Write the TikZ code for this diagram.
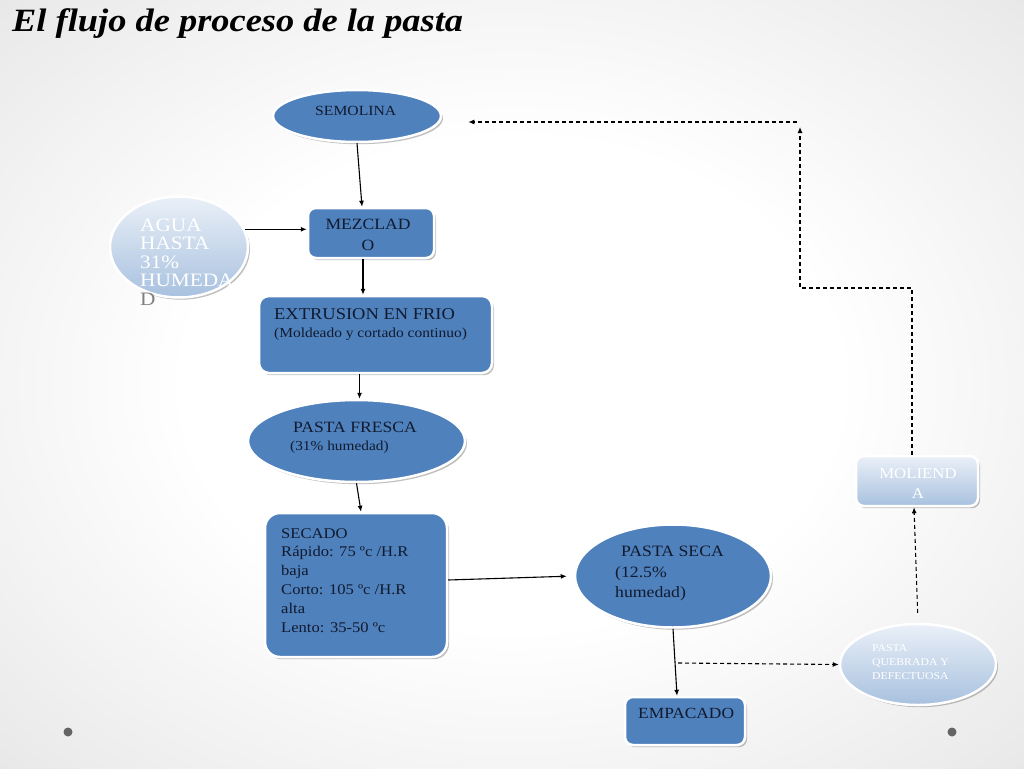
\documentclass[tikz,border=0pt]{standalone}
\usepackage{fontspec}
\setmainfont{Liberation Serif}[FakeStretch=1.12]
\usetikzlibrary{shapes.geometric,shadows,arrows.meta}
\definecolor{mainblue}{HTML}{4F81BD}
\definecolor{lightA}{HTML}{EAF0F8}
\definecolor{lightB}{HTML}{A8C1DF}
\definecolor{txt}{HTML}{111A2E}
\definecolor{bgmid}{RGB}{234,234,234}
\definecolor{bgout}{RGB}{210,210,210}
\definecolor{dotc}{RGB}{100,100,100}
\pgfdeclareradialshading{bgshade}{\pgfpoint{0bp}{0bp}}{color(0bp)=(white); color(16bp)=(white); color(34bp)=(bgmid); color(50bp)=(bgout)}
\begin{document}
\begin{tikzpicture}[x=1pt,y=-1pt,
  shp/.style={draw=white, line width=2.5pt, drop shadow={opacity=0.5, shadow xshift=2pt, shadow yshift=-2.2pt}},
  bluefill/.style={shp, fill=mainblue},
  lightfill/.style={shp, top color=lightA, bottom color=lightB},
  ell/.style={ellipse, inner sep=0pt},
  box/.style={rectangle, rounded corners=8pt, inner sep=0pt},
  lbl/.style={text=txt, inner sep=0pt, anchor=base west, align=left},
  arr/.style={-{Latex[length=6pt,width=5pt]}, line width=1.1pt, black},
  darr/.style={arr, dash pattern=on 4pt off 3pt},
]
\useasboundingbox (0,0) rectangle (1024,768);
\shade[shading=bgshade] (0,0) rectangle (1024,768);

% title
\node[anchor=base west, inner sep=0pt, font=\fontsize{32.5}{36}\selectfont\itshape\bfseries] (title) at (12,32) {El flujo de proceso de la pasta};

% shapes
\node[bluefill, ell, minimum width=168, minimum height=52] (semolina) at (357,116) {};
\node[bluefill, box, minimum width=126, minimum height=50] (mezclado) at (371,233) {};
\node[lightfill, ell, minimum width=138, minimum height=101] (agua) at (179,247) {};
\node[bluefill, box, rounded corners=10pt, minimum width=233, minimum height=77] (extr) at (375.5,334.5) {};
\node[bluefill, ell, minimum width=217, minimum height=82] (fresca) at (356.5,441) {};
\node[bluefill, box, rounded corners=15pt, minimum width=182, minimum height=144] (secado) at (356,585) {};
\node[bluefill, ell, minimum width=196, minimum height=103] (seca) at (673,576) {};
\node[bluefill, box, minimum width=120, minimum height=48] (empacado) at (685,721) {};
\node[lightfill, ell, minimum width=156, minimum height=81] (quebrada) at (918,664.5) {};
\node[lightfill, box, minimum width=122, minimum height=50] (molienda) at (917,481) {};

% texts
\node[lbl, font=\fontsize{14}{16}\selectfont] (semolinaT) at (315,115.5) {SEMOLINA};
\node[lbl, anchor=center, align=center, font=\fontsize{15.7}{21}\selectfont] (mezcladoT) at (368,234.5) {MEZCLAD\\O};
\node[lbl, anchor=north west, text=white, font=\fontsize{19}{18.5}\selectfont] (aguaT) at (140,218.5) {AGUA\\HASTA\\31\%\\HUMEDA\\\textcolor{gray}{D}};
\node[lbl, font=\fontsize{16.5}{19}\selectfont] (extrT1) at (274,319.5) {EXTRUSION EN FRIO};
\node[lbl, font=\fontsize{13.8}{15}\selectfont] (extrT2) at (274,337) {(Moldeado y cortado continuo)};
\node[lbl, font=\fontsize{15.7}{19}\selectfont] (frescaT1) at (293,432) {PASTA FRESCA};
\node[lbl, font=\fontsize{13.7}{15}\selectfont] (frescaT2) at (290,450.5) {(31\% humedad)};
\node[lbl, anchor=north west, font=\fontsize{14.8}{18.8}\selectfont] (secadoT) at (281,528) {SECADO\\Rápido: 75 ºc /H.R\\baja\\Corto: 105 ºc /H.R\\alta\\Lento: 35-50 ºc};
\node[lbl, anchor=north west, font=\fontsize{15.8}{20.5}\selectfont] (secaT) at (615,546) {\hspace*{6pt}PASTA SECA\\(12.5\%\\humedad)};
\node[lbl, font=\fontsize{15.5}{16}\selectfont] (empacadoT) at (638,718) {EMPACADO};
\node[lbl, anchor=north west, text=white, font=\fontsize{10.5}{14}\selectfont] (quebradaT) at (872,644.5) {PASTA\\QUEBRADA Y\\DEFECTUOSA};
\node[lbl, anchor=center, align=center, text=white, font=\fontsize{15}{20}\selectfont] (moliendaT) at (918,484) {MOLIEND\\A};

% connectors
\draw[arr] (semolina.south) -- ([xshift=-9pt]mezclado.north);
\draw[arr] (agua.15) -- (agua.15 -| mezclado.west);
\draw[arr] ([xshift=-8pt]mezclado.south) -- ([xshift=-8pt]mezclado.south |- extr.north);
\draw[arr] ([xshift=-16pt]extr.south) -- ([xshift=-16pt]extr.south |- fresca.north);
\draw[arr] (fresca.south) -- ([xshift=5pt]secado.north);
\draw[arr, shorten >=7pt] ([yshift=5pt]secado.east) -- (seca.west);
\draw[arr] (seca.south) -- ([xshift=-8pt]empacado.north);
\coordinate (split) at (678,663);
\draw[darr] (split) -- (quebrada.west);
\draw[darr, shorten <=10pt] (quebrada.north) -- ([xshift=-3pt]molienda.south);
\coordinate (c2) at (800,288);
\coordinate (c3) at (800,127);
\draw[darr] ([xshift=-5pt]molienda.north) |- (c2) -- (c3);
\coordinate (c4) at (797,122);
\draw[darr, shorten >=26pt] (c4) -- (c4 -| semolina.east);

% dots
\node[circle, fill=dotc, inner sep=0pt, minimum size=9] (dotL) at (68,732) {};
\node[circle, fill=dotc, inner sep=0pt, minimum size=9] (dotR) at (952,732) {};
\end{tikzpicture}
\end{document}
